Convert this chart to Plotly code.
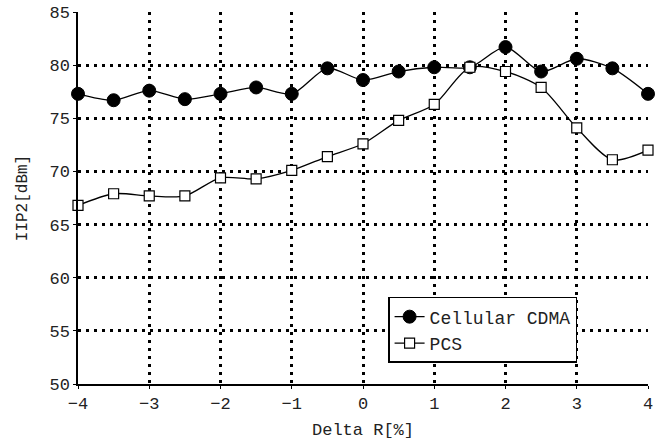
import plotly.graph_objects as go

delta_r = [-4, -3.5, -3, -2.5, -2, -1.5, -1, -0.5, 0, 0.5, 1, 1.5, 2, 2.5, 3, 3.5, 4]
cdma = [77.3, 76.7, 77.6, 76.8, 77.3, 77.9, 77.3, 79.7, 78.6, 79.4, 79.8, 79.8, 81.7, 79.4, 80.6, 79.7, 77.3]
pcs = [66.8, 67.9, 67.7, 67.7, 69.4, 69.3, 70.1, 71.4, 72.6, 74.8, 76.3, 79.8, 79.4, 77.9, 74.1, 71.1, 72.0]

FONT = "Liberation Mono, Courier New, monospace"

fig = go.Figure()
fig.add_trace(go.Scatter(
    x=delta_r, y=cdma, name="Cellular CDMA", mode="lines+markers",
    line=dict(color="black", width=1.3, shape="spline", smoothing=0.8),
    marker=dict(symbol="circle", size=13, color="black", line=dict(color="black", width=1)),
    cliponaxis=False,
))
fig.add_trace(go.Scatter(
    x=delta_r, y=pcs, name="PCS", mode="lines+markers",
    line=dict(color="black", width=1.3, shape="spline", smoothing=0.8),
    marker=dict(symbol="square", size=10, color="white", line=dict(color="black", width=1.2)),
    cliponaxis=False,
))

axis_common = dict(
    showgrid=True, gridcolor="black", gridwidth=3, griddash="3px,5px",
    showline=True, linecolor="black", linewidth=1.5, mirror=False,
    ticks="outside", ticklen=3, tickcolor="black",
    tickfont=dict(family=FONT, size=17, color="#222"),
    zeroline=False, automargin=False,
)

fig.update_layout(
    width=663, height=440,
    margin=dict(l=78, r=15, t=12, b=56),
    paper_bgcolor="white", plot_bgcolor="white",
    font=dict(family=FONT, color="#222"),
    showlegend=True,
    legend=dict(
        x=0.544, y=0.234, xanchor="left", yanchor="top",
        bordercolor="black", borderwidth=1.5, bgcolor="white",
        font=dict(family=FONT, size=18, color="#222"),
        tracegroupgap=0,
    ),
    xaxis=dict(
        range=[-4, 4], dtick=1, tick0=-4,
        title=dict(text="Delta R[%]", font=dict(family=FONT, size=17), standoff=10),
        **axis_common,
    ),
    yaxis=dict(
        range=[50, 85], dtick=5, tick0=50,
        title=dict(text="IIP2[dBm]", font=dict(family=FONT, size=16), standoff=18),
        **axis_common,
    ),
)

fig.write_html(
    "out.html",
    config={"displayModeBar": False},
    post_script="document.body.style.margin='0';document.body.style.overflow='hidden';",
)
